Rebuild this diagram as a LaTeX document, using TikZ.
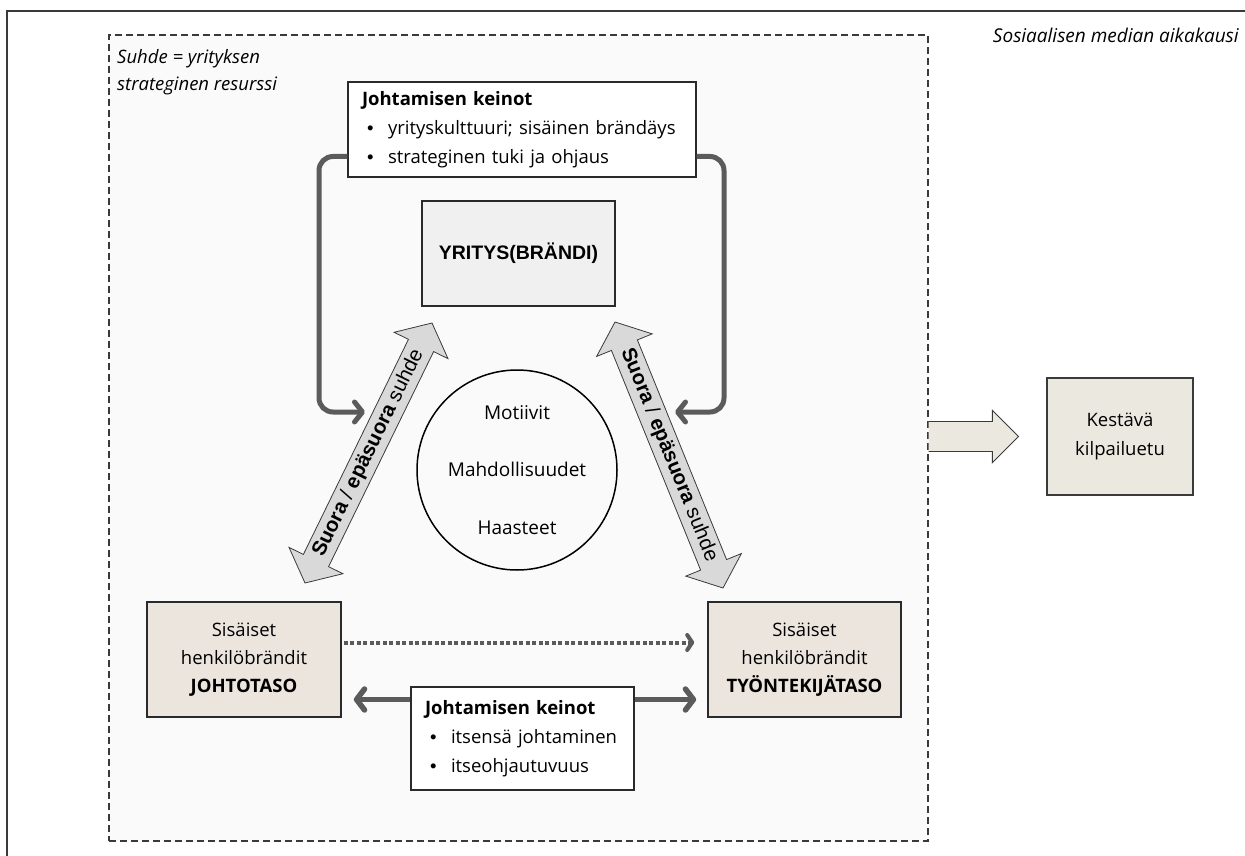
\documentclass[tikz,border=0pt]{standalone}
\usepackage{fontspec}
\setmainfont{Open Sans}
\newfontfamily\arialfont{Liberation Sans}
\usetikzlibrary{calc,arrows.meta}
\definecolor{framecol}{HTML}{3A3A3A}
\definecolor{boxedge}{HTML}{2A2A2A}
\definecolor{beige}{HTML}{ECE5DE}
\definecolor{lightgray}{HTML}{F0F0F0}
\definecolor{regionfill}{HTML}{FAFAFA}
\definecolor{conncol}{HTML}{5B5B5B}
\definecolor{arrowfill}{HTML}{D9D9D9}
\definecolor{kestfill}{HTML}{EBE8DF}
\newcommand{\dblarrow}[3]{%
  \coordinate (p1) at ($(#1)!25pt!(#2)$);
  \coordinate (p2) at ($(#2)!25pt!(#1)$);
  \draw[bigarrow] (#1) -- ($(p1)!30pt!90:(#2)$) -- ($(p1)!14pt!90:(#2)$)
    -- ($(p2)!14pt!-90:(#1)$) -- ($(p2)!30pt!-90:(#1)$) -- (#2)
    -- ($(p2)!30pt!90:(#1)$) -- ($(p2)!14pt!90:(#1)$)
    -- ($(p1)!14pt!-90:(#2)$) -- ($(p1)!30pt!-90:(#2)$) -- cycle;
  \path (#1) -- (#2) node[midway, sloped, arrowtext] {#3};
}
\newcommand{\bul}{\makebox[26pt][l]{\hspace{5pt}{\arialfont•}}}
\begin{document}
\begin{tikzpicture}[x=1pt,y=-1pt,
  region/.style={draw=framecol, fill=regionfill, line width=1.3pt, dash pattern=on 7pt off 4pt, inner sep=0pt},
  textbox/.style={draw=boxedge, fill=white, line width=1.2pt, inner xsep=14pt, inner ysep=0pt, align=left, font=\fontsize{18.5}{29}\selectfont},
  ybox/.style={draw=boxedge, fill=lightgray, line width=1.5pt, inner sep=0pt, font=\arialfont\bfseries\fontsize{19.5}{22}\selectfont},
  circ/.style={draw=black, circle, line width=1.5pt, inner sep=0pt, align=center, font=\fontsize{19}{57.5}\selectfont},
  lvl/.style={draw=boxedge, fill=beige, line width=1.6pt, inner sep=0pt, align=center, font=\fontsize{18.5}{28}\selectfont},
  kbox/.style={draw=framecol, fill=kestfill, line width=1.2pt, inner sep=0pt, align=center, font=\fontsize{18.5}{29}\selectfont},
  bigarrow/.style={draw=framecol, fill=arrowfill, line width=0.8pt, line join=miter},
  arrowtext/.style={font=\arialfont\fontsize{20.5}{22}\selectfont, inner sep=0pt},
  conn/.style={draw=conncol, line width=5pt, -{Straight Barb[length=8pt,width=20pt,round]}},
  conn2/.style={draw=conncol, line width=5.5pt, {Straight Barb[length=8pt,width=21pt,round]}-{Straight Barb[length=8pt,width=21pt,round]}},
  dotconn/.style={draw=conncol, line width=4pt, dash pattern=on 4pt off 2.5pt, -{Straight Barb[length=5pt,width=15pt,round]}},
  blockarrow/.style={fill=kestfill, draw=framecol, line width=0.9pt},
  plain/.style={inner sep=0pt}
]
\useasboundingbox (0,0) rectangle (1245,856);
\clip (0,0) rectangle (1245,856);
% outer frame
\draw[framecol, line width=1.6pt] (7,880) -- (7,11) -- (1270,11);
% region
\node[region, minimum width=819pt, minimum height=806pt] (region) at (518.5,438) {};
\node[plain, anchor=north west, align=left, font=\itshape\fontsize{18.5}{27}\selectfont] (suhde) at (117,49) {Suhde = yrityksen\\strateginen resurssi};
\node[plain, anchor=east, font=\itshape\fontsize{19}{22}\selectfont] (era) at (1239,35) {Sosiaalisen median aikakausi};
% top means box
\node[textbox, minimum width=348pt, minimum height=95pt, text width=320pt] (topk) at (522,129.5)
  {\textbf{Johtamisen keinot}\\\bul yrityskulttuuri; sisäinen brändäys\\\bul strateginen tuki ja ohjaus};
% company
\node[ybox, minimum width=193pt, minimum height=105pt] (yritys) at (518.5,253.5) {YRITYS(BRÄNDI)};
% circle
\node[circ, minimum size=200pt] (circ) at (517,470) {Motiivit\\Mahdollisuudet\\Haasteet};
% level boxes
\node[lvl, minimum width=194pt, minimum height=115pt] (lbox) at (244,659.5) {Sisäiset\\henkilöbrändit\\\textbf{JOHTOTASO}};
\node[lvl, minimum width=193pt, minimum height=115pt] (rbox) at (804.5,659.5) {Sisäiset\\henkilöbrändit\\\textbf{TYÖNTEKIJÄTASO}};
% big double arrows
\coordinate (la1) at (305,583);
\coordinate (la2) at (432,323);
\coordinate (ra1) at (615,322);
\coordinate (ra2) at (723,588);
\dblarrow{la1}{la2}{\textbf{Suora} / \textbf{epäsuora} suhde}
\dblarrow{ra1}{ra2}{\textbf{Suora} / \textbf{epäsuora} suhde}
% connectors from top box
\coordinate (lhit) at (365,412);
\coordinate (rhit) at (675,412);
\draw[conn, rounded corners=14pt] ($(topk.west)+(0,27)$) -| (319,412) -- (lhit);
\draw[conn, rounded corners=14pt] ($(topk.east)+(0,27)$) -| (724,412) -- (rhit);
% bottom connectors
\draw[dotconn] ($(lbox.east)+(2,-17)$) -- ($(rbox.west)+(-13,-17)$);
\draw[conn2] ($(lbox.east)+(12,40)$) -- ($(rbox.west)+(-11,40)$);
\node[textbox, minimum width=223pt, minimum height=103pt, text width=195pt] (botk) at (522.5,738.5)
  {\textbf{Johtamisen keinot}\\\bul itsensä johtaminen\\\bul itseohjautuvuus};
% result
\node[kbox, minimum width=146pt, minimum height=117pt] (kest) at (1120,436.5) {Kestävä\\kilpailuetu};
\coordinate (ba0) at (region.east |- kest.west);
\coordinate (bt) at ($(kest.west)+(-28,0)$);
\filldraw[blockarrow] ($(ba0)+(0,-15)$) -- ($(bt)+(-26,-15)$) -- ($(bt)+(-26,-26)$) -- (bt)
  -- ($(bt)+(-26,26)$) -- ($(bt)+(-26,15)$) -- ($(ba0)+(0,15)$);
\end{tikzpicture}
\end{document}
